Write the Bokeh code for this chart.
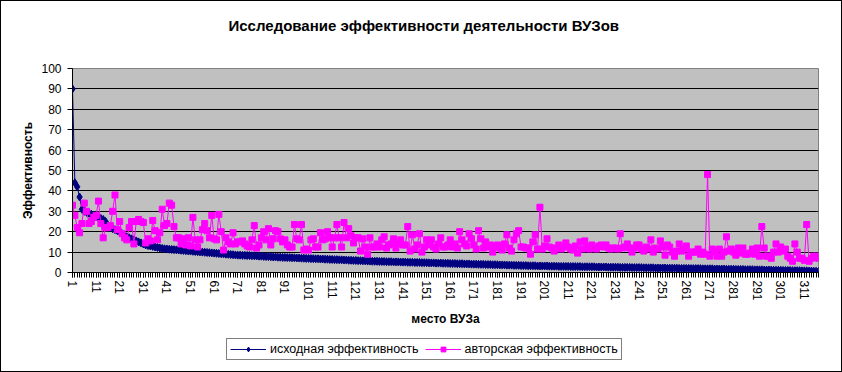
from bokeh.plotting import figure
from bokeh.layouts import column
from bokeh.models import Range1d, FixedTicker, Legend, LegendItem, Title
from bokeh.embed import file_html
from bokeh.resources import INLINE

# ---------------- data ----------------
title_text = "Исследование эффективности деятельности ВУЗов"
x_title = "место ВУЗа"
y_title = "Эффективность"
series_names = ["исходная эффективность", "авторская эффективность"]

x_tick_positions = [1, 11, 21, 31, 41, 51, 61, 71, 81, 91, 101, 111, 121, 131, 141, 151,
                    161, 171, 181, 191, 201, 211, 221, 231, 241, 251, 261, 271, 281, 291, 301, 311]
x_tick_labels = ["1", "11", "21", "31", "41", "51", "61", "71", "81", "91", "101", "111", "121",
                 "131", "141", "151", "161", "171", "181", "191", "201", "211", "221", "231",
                 "241", "251", "261", "271", "281", "291", "301", "311"]
y_ticks = [0, 10, 20, 30, 40, 50, 60, 70, 80, 90, 100]

base_eff = [
    90, 44, 42, 37, 31, 30, 29.5, 29, 28.5, 28,
    27.5, 27, 26.5, 26, 25, 23, 22, 21.5, 21, 20.5,
    20, 19, 18, 17.5, 17, 16.5, 16, 15.5, 15, 14.5,
    14, 13.5, 13.2, 13, 12.8, 12.5, 12.3, 12, 11.8, 11.6,
    11.5, 11.4, 11.3, 11.2, 11.1, 11, 10.9, 10.8, 10.7, 10.6,
    10.5, 10.4, 10.3, 10.2, 10.1, 10, 9.9, 9.8, 9.7, 9.6,
    9.5, 9.4, 9.3, 9.2, 9.1, 9, 8.9, 8.8, 8.7, 8.6,
    8.5, 8.5, 8.4, 8.4, 8.3, 8.3, 8.2, 8.2, 8.1, 8,
    8, 7.9, 7.8, 7.8, 7.7, 7.6, 7.6, 7.5, 7.5, 7.4,
    7.4, 7.3, 7.3, 7.2, 7.2, 7.1, 7.1, 7, 7, 6.9,
    6.9, 6.8, 6.8, 6.7, 6.7, 6.6, 6.6, 6.5, 6.5, 6.4,
    6.4, 6.3, 6.3, 6.2, 6.2, 6.1, 6.1, 6, 6, 5.9,
    5.9, 5.8, 5.8, 5.7, 5.7, 5.6, 5.6, 5.5, 5.5, 5.5,
    5.4, 5.4, 5.4, 5.3, 5.3, 5.3, 5.2, 5.2, 5.2, 5.1,
    5.1, 5.1, 5, 5, 5, 4.9, 4.9, 4.9, 4.8, 4.8,
    4.8, 4.7, 4.7, 4.7, 4.6, 4.6, 4.6, 4.5, 4.5, 4.5,
    4.4, 4.4, 4.4, 4.3, 4.3, 4.3, 4.2, 4.2, 4.2, 4.1,
    4.1, 4.1, 4, 4, 4, 3.9, 3.9, 3.9, 3.8, 3.8,
    3.8, 3.7, 3.7, 3.7, 3.6, 3.6, 3.6, 3.5, 3.5, 3.5,
    3.4, 3.4, 3.4, 3.3, 3.3, 3.3, 3.3, 3.2, 3.2, 3.2,
    3.2, 3.2, 3.1, 3.1, 3.1, 3.1, 3, 3, 3, 3,
    3, 2.9, 2.9, 2.9, 2.9, 2.9, 2.8, 2.8, 2.8, 2.8,
    2.8, 2.8, 2.7, 2.7, 2.7, 2.7, 2.7, 2.6, 2.6, 2.6,
    2.6, 2.6, 2.5, 2.5, 2.5, 2.5, 2.5, 2.4, 2.4, 2.4,
    2.4, 2.4, 2.3, 2.3, 2.3, 2.3, 2.3, 2.2, 2.2, 2.2,
    2.2, 2.2, 2.1, 2.1, 2.1, 2.1, 2.1, 2, 2, 2,
    2, 2, 1.9, 1.9, 1.9, 1.9, 1.9, 1.8, 1.8, 1.8,
    1.8, 1.8, 1.7, 1.7, 1.7, 1.7, 1.7, 1.6, 1.6, 1.6,
    1.6, 1.5, 1.5, 1.5, 1.5, 1.4, 1.4, 1.4, 1.4, 1.3,
    1.3, 1.3, 1.3, 1.2, 1.2, 1.2, 1.2, 1.1, 1.1, 1.1,
    1.1, 1, 1, 1, 1, 0.9, 0.9, 0.9, 0.9, 0.8,
    0.8, 0.8, 0.7, 0.7, 0.6, 0.6, 0.5,
]

author_eff = [
    33, 28, 22, 19.5, 24, 34, 30, 24, 25, 27,
    28, 35, 24, 17, 22, 22, 23, 30, 38, 21,
    25, 19, 17, 16, 22, 25, 14, 25, 26, 25,
    24.5, 14.5, 16.5, 15.5, 25.5, 20.5, 16, 19.5, 31, 23,
    24, 34, 33, 22.5, 17, 17, 14, 16.5, 13.5, 17,
    13, 27, 16, 12.5, 16, 21, 24, 20.5, 17, 28,
    16.5, 16, 28.5, 20, 11, 17, 15, 14, 19.5, 14,
    15, 15, 15.5, 14, 13, 12.5, 16, 23, 12, 13.5,
    17, 20, 16, 21.5, 13.5, 16.5, 20.5, 20, 16.5, 15,
    16, 13.5, 12.5, 12.5, 23.5, 16.5, 16, 23.5, 11, 11.5,
    11, 16, 16.5, 12.5, 12.5, 19.5, 16, 16.5, 20, 17,
    12.5, 17, 23.5, 17, 12.5, 24.5, 17, 21.5, 18, 14.5,
    17, 17, 10.5, 16.5, 12.5, 9, 17, 12.5, 12.5, 14,
    12.5, 16, 17.5, 12, 13.5, 14, 16.5, 12, 14, 16,
    13.5, 13.5, 22.5, 10.5, 18.5, 11.5, 13.5, 19, 10, 12.5,
    16, 13.5, 16, 12.5, 11.5, 14, 17, 12.5, 12.5, 13.5,
    16, 12.5, 14, 12, 20, 16, 14, 13, 19, 16.5,
    13.5, 11.5, 20.5, 16.5, 12, 15, 12.5, 13.5, 10, 12.5,
    13.5, 12, 11, 14, 18.5, 12, 10.5, 16, 19, 20.5,
    12.5, 12.5, 12, 12, 9, 15, 18.5, 11.5, 32, 11.5,
    13, 16.5, 12.5, 12, 10.5, 12, 13.5, 11.5, 12.5, 14.5,
    12.5, 11.5, 11, 13, 9.5, 15, 11.5, 15.5, 12.5, 11.5,
    13.5, 12, 11.5, 13, 13.5, 12.5, 13.5, 12, 11.5, 12,
    12, 11.5, 19, 12, 12.5, 14, 12, 10, 12, 13.5,
    13.5, 11.5, 10.5, 12.5, 11.5, 16, 10, 12, 11.5, 15.5,
    12.5, 8.5, 13.5, 12.5, 10, 8, 10.5, 14, 10.5, 11.5,
    13, 8, 10, 10, 10, 11.5, 9, 10, 9, 48,
    8, 11.5, 10, 8, 11.5, 8, 10, 17.5, 10.5, 11.5,
    10, 8.5, 12, 9.5, 12, 9, 9, 9.5, 11.5, 9,
    12, 8, 22.5, 12, 8, 8, 7, 10, 14, 10,
    12.5, 10.5, 11.5, 8, 7, 5.5, 14, 10, 7, 7,
    6, 23.5, 5.5, 7, 8, 8, 7,
]

places = list(range(1, len(base_eff) + 1))

# ---------------- styles ----------------
FONT = "Liberation Sans"
BLUE = "#000080"
PINK = "#FF00FF"

# ---------------- main chart ----------------
p = figure(width=840, height=330,
           x_range=Range1d(1, len(places)), y_range=Range1d(0, 100),
           output_backend="svg", toolbar_location=None,
           min_border_left=71, min_border_right=23, min_border_top=67, min_border_bottom=59,
           background_fill_color="#C0C0C0", border_fill_color="white",
           outline_line_color="#808080")

p.title.text = title_text
p.title.align = "left"
p.title.offset = 156
p.title.text_font = FONT
p.title.text_font_size = "15px"
p.title.text_font_style = "bold"
p.title.text_color = "black"
# spacer between the title and the plot area
p.add_layout(Title(text=" ", text_font=FONT, text_font_size="14px", standoff=12), "above")

p.line(places, base_eff, line_color=BLUE, line_width=1)
p.scatter(places, base_eff, marker="diamond", size=8, fill_color=BLUE, line_color=BLUE)
p.line(places, author_eff, line_color=PINK, line_width=1)
p.scatter(places, author_eff, marker="square", size=6, fill_color=PINK, line_color=PINK)

p.xaxis.ticker = FixedTicker(ticks=x_tick_positions, minor_ticks=places)
p.xaxis.major_label_overrides = dict(zip(x_tick_positions, x_tick_labels))
p.xaxis.major_label_orientation = "vertical"
p.yaxis.ticker = FixedTicker(ticks=y_ticks)
p.yaxis.minor_tick_line_color = None
for ax in (p.xaxis[0], p.yaxis[0]):
    ax.axis_line_color = "black"
    ax.major_tick_line_color = "black"
    ax.major_tick_in = 0
    ax.major_tick_out = 5
    ax.major_label_text_font = FONT
    ax.major_label_text_font_size = "12px"
    ax.major_label_text_color = "black"
    ax.axis_label_text_font = FONT
    ax.axis_label_text_font_size = "12px"
    ax.axis_label_text_font_style = "bold"
    ax.axis_label_text_color = "black"
p.xaxis.minor_tick_line_color = "black"
p.xaxis.minor_tick_in = 0
p.xaxis.minor_tick_out = 5
p.xaxis.major_label_standoff = 3
p.yaxis.major_label_standoff = 6
p.xaxis.axis_label = x_title
p.yaxis.axis_label = y_title
p.xaxis.axis_label_standoff = 8
p.yaxis.axis_label_standoff = 3

p.xgrid.visible = False
p.ygrid.ticker = FixedTicker(ticks=y_ticks)
p.ygrid.grid_line_color = "black"
p.ygrid.grid_line_width = 1

# ---------------- legend strip ----------------
# the series are drawn again here outside the visible range, only so that the
# legend has glyphs to show
q = figure(width=840, height=40, x_range=Range1d(-2, -1), y_range=Range1d(0, 1),
           output_backend="svg", toolbar_location=None,
           x_axis_type=None, y_axis_type=None,
           min_border=0, outline_line_color=None,
           background_fill_color="white", border_fill_color="white")
q.xgrid.visible = False
q.ygrid.visible = False
k1 = q.line(places, base_eff, line_color=BLUE, line_width=1)
m1 = q.scatter(places, base_eff, marker="diamond", size=8, fill_color=BLUE, line_color=BLUE)
k2 = q.line(places, author_eff, line_color=PINK, line_width=1)
m2 = q.scatter(places, author_eff, marker="square", size=6, fill_color=PINK, line_color=PINK)

legend = Legend(items=[LegendItem(label=series_names[0], renderers=[k1, m1]),
                       LegendItem(label=series_names[1], renderers=[k2, m2])],
                location=(154, 11), orientation="horizontal",
                border_line_color="black", border_line_width=1,
                background_fill_color="white", background_fill_alpha=1,
                label_text_font=FONT, label_text_font_size="12.5px", label_text_color="black",
                glyph_width=36, glyph_height=12, label_standoff=4, spacing=6,
                padding=3, margin=0)
q.add_layout(legend, "center")

layout = column(p, q, spacing=0)
layout.styles = {"border": "1px solid black"}

open("out.html", "w").write(file_html(layout, INLINE))
